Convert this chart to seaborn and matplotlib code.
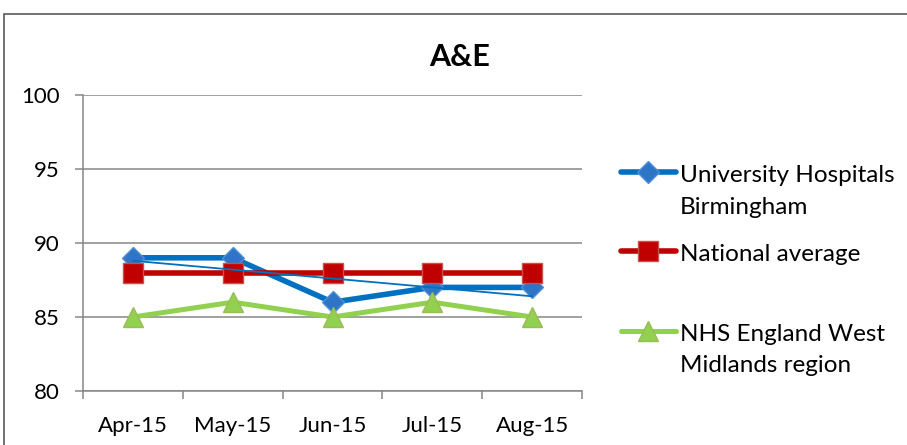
import numpy as np
import pandas as pd
import matplotlib
matplotlib.use("Agg")
import matplotlib.pyplot as plt
import seaborn as sns
from matplotlib.lines import Line2D
from matplotlib.patches import Rectangle
from matplotlib.legend_handler import HandlerLine2D

# ---- data ----
months = ["Apr-15", "May-15", "Jun-15", "Jul-15", "Aug-15"]
uhb = [89, 89, 86, 87, 87]
national = [88, 88, 88, 88, 88]
west_midlands = [85, 86, 85, 86, 85]
series_labels = ["University Hospitals\nBirmingham", "National average\n",
                 "NHS England West\nMidlands region"]
y_ticks = [80, 85, 90, 95, 100]
title = "A&E"

sns.set_theme(style="white")
plt.rcParams["font.family"] = ["Lato", "DejaVu Sans"]
plt.rcParams["text.color"] = "black"

W, H = 907, 445
fig = plt.figure(figsize=(W / 100, H / 100), dpi=100)
ax = fig.add_axes([83 / W, 1 - 391 / H, 499 / W, 296 / H])

pos = np.arange(len(months))
df = pd.DataFrame({"pos": pos, "uhb": uhb, "national": national, "wm": west_midlands})

grid_c = "#868686"
for y in y_ticks:
    ax.axhline(y, color=grid_c, lw=1.1, zorder=0)

sns.lineplot(data=df, x="pos", y="uhb", ax=ax, color="#0070C0", lw=4.0,
             marker="D", ms=11, markerfacecolor="#2E75C6",
             markeredgecolor="#4F8FD6", markeredgewidth=1.0, legend=False)
sns.lineplot(data=df, x="pos", y="national", ax=ax, color="#C00000", lw=4.0,
             marker="s", ms=14.5, markerfacecolor="#C00000",
             markeredgecolor="#C9504D", markeredgewidth=1.0, legend=False)
sns.lineplot(data=df, x="pos", y="wm", ax=ax, color="#92D050", lw=3.6,
             marker="^", ms=14.5, markerfacecolor="#92D050",
             markeredgecolor="#9BBB59", markeredgewidth=1.0, legend=False)
series_lines = ax.get_lines()[-3:]

# linear trendline of the UHB series (computed from the data)
coef = np.polyfit(pos, uhb, 1)
ax.plot(pos, np.polyval(coef, pos), color="#0070C0", lw=1.3, zorder=5)

ax.set_xlim(-0.5, len(months) - 0.5)
ax.set_ylim(80, 100)
ax.set_xticks(np.arange(-0.5, len(months)), labels=[""] * (len(months) + 1))
ax.set_xticks(pos, labels=months, minor=True)
ax.tick_params(axis="x", which="major", direction="out", length=5.5, width=1.1,
               color=grid_c, bottom=True)
ax.tick_params(axis="x", which="minor", length=0, pad=18, labelsize=16,
               labelcolor="black")
ax.set_yticks(y_ticks)
ax.tick_params(axis="y", which="major", direction="out", length=5.8, width=1.1,
               color=grid_c, left=True, pad=11, labelsize=16, labelcolor="black")
ax.set_xlabel("")
ax.set_ylabel("")
for s in ["top", "right"]:
    ax.spines[s].set_visible(False)
for s in ["left", "bottom"]:
    ax.spines[s].set_color(grid_c)
    ax.spines[s].set_linewidth(1.1)

fig.text(460 / W, 1 - 57 / H, title, ha="center", va="center",
         fontsize=22, fontweight="bold", color="black")

# legend: handle aligned to the first line of each two-line label
fs = 17.5
linesp = 1.62


class FirstLineHandler(HandlerLine2D):
    def __init__(self, shift, **kw):
        super().__init__(**kw)
        self.shift = shift

    def create_artists(self, legend, orig_handle, xdescent, ydescent, width,
                       height, fontsize, trans):
        arts = super().create_artists(legend, orig_handle, xdescent, ydescent,
                                      width, height, fontsize, trans)
        for a in arts:
            a.set_ydata(np.asarray(a.get_ydata(), dtype=float) + self.shift)
        return arts


leg = fig.legend(handles=series_lines, labels=series_labels, loc="upper left",
                 bbox_to_anchor=(621 / W, 1 - 165 / H), frameon=False,
                 fontsize=fs, handlelength=2.26, handletextpad=0.17,
                 labelspacing=1.1, borderpad=0, borderaxespad=0,
                 handler_map={Line2D: FirstLineHandler(13.8)})
for t in leg.get_texts():
    t.set_linespacing(linesp)
    t.set_color("black")

# outer chart frame
fig.add_artist(Rectangle((4 / W, -0.2), 2, 1.2 - 14 / H, transform=fig.transFigure,
                         fill=False, edgecolor="#5a5a5a", lw=1.2))

fig.savefig("out.png", dpi=100)
